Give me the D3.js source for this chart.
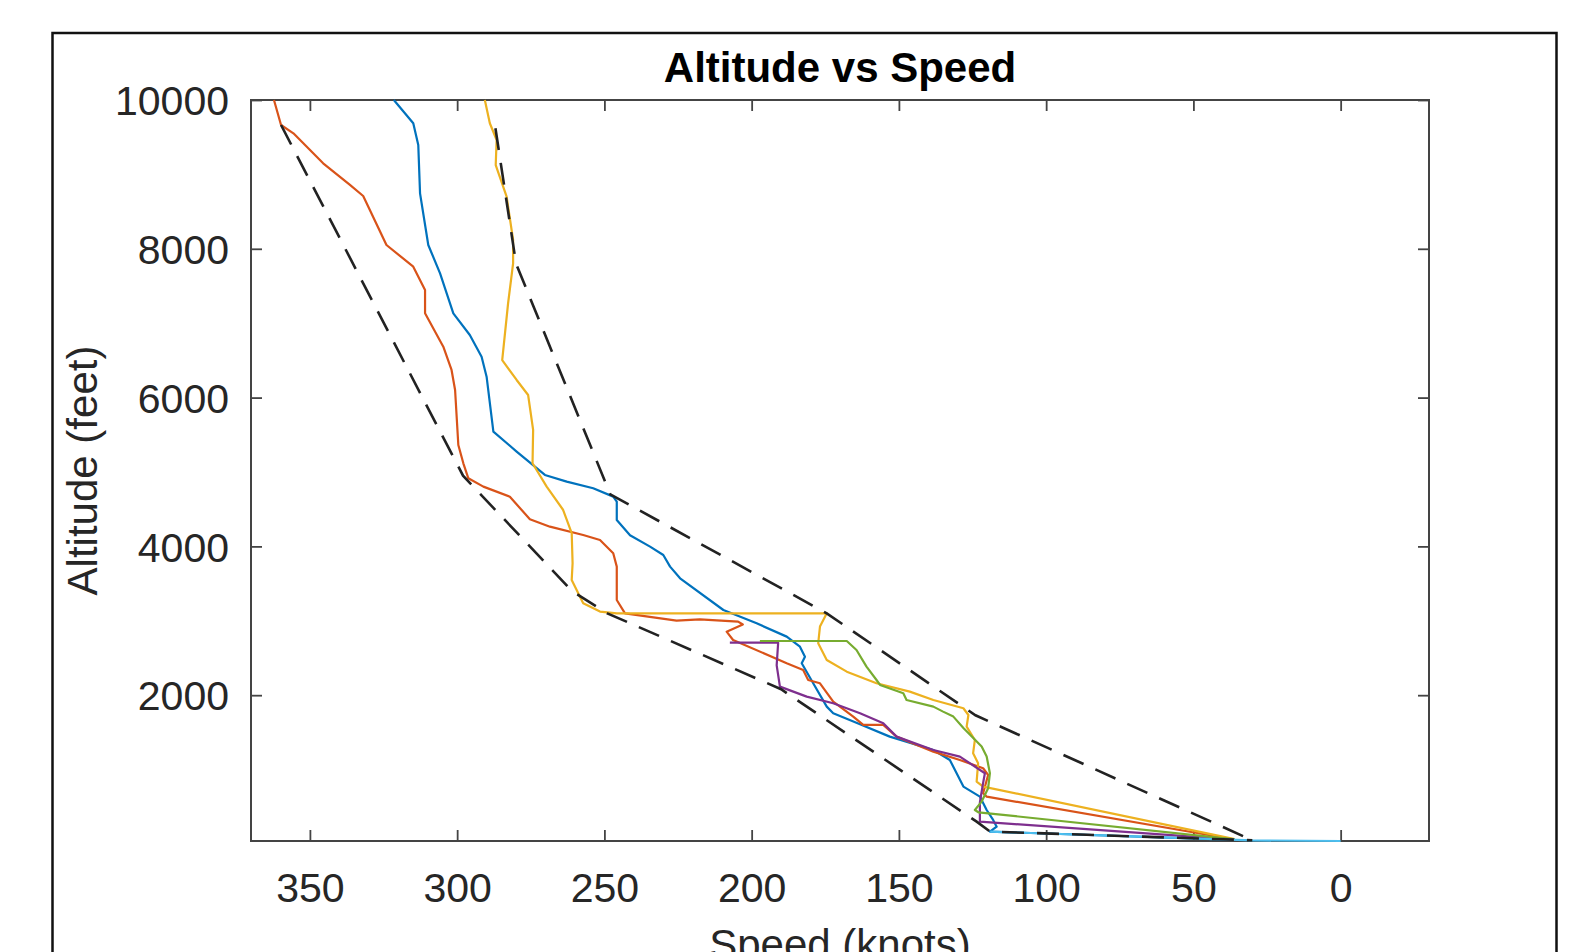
<!DOCTYPE html>
<html>
<head>
<meta charset="utf-8">
<script src="https://cdn.jsdelivr.net/npm/d3@7"></script>
<style>
  body { margin: 0; background: #fff; }
  text { font-family: "Liberation Sans", Arial, Helvetica, sans-serif; }
</style>
</head>
<body>
<svg id="chart" width="1585" height="952"></svg>
<script>
// speed (knots), altitude (feet) pairs, one array per track
const blueTrack = [[321.5,10000],[314.9,9687],[313.2,9395],[312.6,8745],[309.8,8051],[305.8,7670],[301.3,7133],[295.7,6841],[291.7,6550],[290,6281],[287.7,5543],[279.8,5274],[270.2,4960],[262.8,4871],[253.8,4782],[247,4669],[245.8,4602],[245.8,4355],[241.3,4150],[234.5,3997],[230,3884],[227.7,3728],[224.3,3571],[209.6,3145],[198.3,2966],[188.1,2787],[183.6,2652],[181.9,2518],[183,2429],[179.1,2160],[174.5,1846],[172.3,1758],[163.2,1610],[153.1,1443],[138.3,1263],[132.7,1129],[128.1,771],[122.5,637],[120.2,457],[118,323],[116.8,233],[119.1,166],[36,55]];
const redTrack = [[362.2,10000],[359.8,9664],[355.6,9552],[345.5,9149],[336.4,8858],[331.9,8710],[324,8051],[314.9,7760],[310.9,7446],[310.9,7133],[304.7,6684],[301.9,6371],[300.7,6102],[299.6,5363],[297.9,5117],[296.2,4915],[291.1,4803],[282.1,4668],[275.3,4364],[268.5,4265],[257.2,4153],[251.5,4086],[247,3907],[245.8,3728],[245.8,3280],[243,3100],[225.5,3002],[217.6,3020],[204.6,2989],[203,2950],[208.5,2854],[206.3,2742],[188.1,2429],[182.5,2339],[180.8,2204],[176.8,2160],[172.3,1914],[165.5,1712],[162.1,1600],[155.3,1600],[150.8,1443],[138.3,1241],[129.3,1129],[121.4,1018],[119.7,927],[121.4,682],[120.2,637],[36,60]];
const yellowTrack = [[290.6,10000],[288.9,9687],[286.6,9462],[286.9,9126],[283.2,8701],[281,8118],[281,7805],[282.7,7268],[284.7,6505],[279.8,6237],[275.9,6035],[274.2,5565],[274.4,5117],[269.6,4804],[264,4489],[261.1,4177],[260.8,3774],[261.1,3548],[257.2,3235],[251.5,3124],[245.8,3100],[174.5,3100],[176.8,2922],[177.4,2698],[174.5,2473],[167.7,2316],[157.6,2160],[146.3,2048],[138.3,1935],[128.1,1824],[126.4,1734],[127,1577],[124.2,1398],[124.8,1220],[123.1,1086],[123.6,839],[121.4,771],[36,65]];
const purpleTrack = [[207.4,2706],[191,2706],[191.5,2400],[190.4,2115],[181.3,1981],[172.3,1892],[163.2,1758],[155.3,1624],[150.8,1443],[138.3,1263],[129.3,1175],[120.8,951],[121.5,800],[122.5,560],[122.5,301],[36,58]];
const greenTrack = [[197.2,2728],[167.7,2728],[164.4,2608],[161,2384],[157.6,2204],[156.4,2137],[148.5,2025],[147.4,1935],[138.3,1846],[135,1779],[131.5,1712],[128.1,1560],[121.9,1309],[120.2,1175],[119.1,951],[119.7,749],[121.9,570],[124.2,457],[123,426],[36,62]];
const cyanTrack = [[119,166],[30,48],[0,40]];

// dashed envelope
const upperBound = [[287,9620],[280,7800],[248,4700],[174.5,3100],[124,1730],[30,50]];
const lowerBound = [[359.8,9664],[298,4950],[261,3400],[249,3100],[190,2080],[123.6,300],[119,166],[30,50]];

const tracks = [blueTrack, redTrack, yellowTrack, purpleTrack, greenTrack, cyanTrack];
const trackColors = ['#0072BD', '#D95319', '#EDB120', '#7E2F8E', '#77AC30', '#4DBEEE'];

const xTicks = [350, 300, 250, 200, 150, 100, 50, 0];
const yTicks = [2000, 4000, 6000, 8000, 10000];
const xDomain = [370, -30];
const yDomain = [40, 10000];

const svg = d3.select('#chart');

// plot box
const boxLeft = 251, boxRight = 1429, boxTop = 100, boxBottom = 841;

const x = d3.scaleLinear().domain(xDomain).range([boxLeft, boxRight]);
const y = d3.scaleLinear().domain(yDomain).range([boxBottom, boxTop]);

// outer figure frame (runs off the bottom of the picture)
svg.append('rect')
    .attr('x', 52.5).attr('y', 33)
    .attr('width', 1504).attr('height', 960)
    .attr('fill', 'none')
    .attr('stroke', '#111')
    .attr('stroke-width', 2.5);

// axes, ticks pointing inward on all four sides
const axisColor = '#444';
const tickFont = '41px';
const plain = d3.format('d');

const gx = svg.append('g')
    .attr('transform', `translate(0,${boxBottom})`)
    .call(d3.axisBottom(x).tickValues(xTicks).tickFormat(plain).tickSizeInner(-11).tickSizeOuter(0).tickPadding(0));
gx.selectAll('text').attr('y', 61).attr('dy', null)
    .style('font-size', tickFont).attr('fill', '#262626');

const gy = svg.append('g')
    .attr('transform', `translate(${boxLeft},0)`)
    .call(d3.axisLeft(y).tickValues(yTicks).tickFormat(plain).tickSizeInner(-11).tickSizeOuter(0).tickPadding(22));
gy.selectAll('text').attr('dy', '0.36em')
    .style('font-size', tickFont).attr('fill', '#262626');

svg.append('g')
    .attr('transform', `translate(0,${boxTop})`)
    .call(d3.axisTop(x).tickValues(xTicks).tickSizeInner(-11).tickSizeOuter(0).tickFormat(''));
svg.append('g')
    .attr('transform', `translate(${boxRight},0)`)
    .call(d3.axisRight(y).tickValues(yTicks).tickSizeInner(-11).tickSizeOuter(0).tickFormat(''));

svg.selectAll('.domain').remove();
svg.selectAll('.tick line').attr('stroke', axisColor).attr('stroke-width', 1.8);

svg.append('rect')
    .attr('x', boxLeft).attr('y', boxTop)
    .attr('width', boxRight - boxLeft).attr('height', boxBottom - boxTop)
    .attr('fill', 'none')
    .attr('stroke', axisColor)
    .attr('stroke-width', 2);

// the tracks
const line = d3.line()
    .x(d => x(d[0]))
    .y(d => y(d[1]));

const plot = svg.append('g');

plot.selectAll('path.track')
    .data(tracks)
    .join('path')
    .attr('class', 'track')
    .attr('d', line)
    .attr('fill', 'none')
    .attr('stroke', (d, i) => trackColors[i])
    .attr('stroke-width', 2.2)
    .attr('stroke-linejoin', 'round');

// envelope drawn on top, dashed
plot.selectAll('path.bound')
    .data([upperBound, lowerBound])
    .join('path')
    .attr('class', 'bound')
    .attr('d', line)
    .attr('fill', 'none')
    .attr('stroke', '#222')
    .attr('stroke-width', 2.6)
    .attr('stroke-dasharray', '22,13');

// title and axis labels
svg.append('text')
    .attr('x', (boxLeft + boxRight) / 2).attr('y', 82)
    .attr('text-anchor', 'middle')
    .style('font-size', '42px').style('font-weight', 'bold')
    .attr('fill', '#000')
    .text('Altitude vs Speed');

svg.append('text')
    .attr('transform', `translate(97,${(boxTop + boxBottom) / 2}) rotate(-90)`)
    .attr('text-anchor', 'middle')
    .style('font-size', '42px')
    .attr('fill', '#262626')
    .text('Altitude (feet)');

svg.append('text')
    .attr('x', (boxLeft + boxRight) / 2).attr('y', 959)
    .attr('text-anchor', 'middle')
    .style('font-size', '42px')
    .attr('fill', '#262626')
    .text('Speed (knots)');
</script>
</body>
</html>
